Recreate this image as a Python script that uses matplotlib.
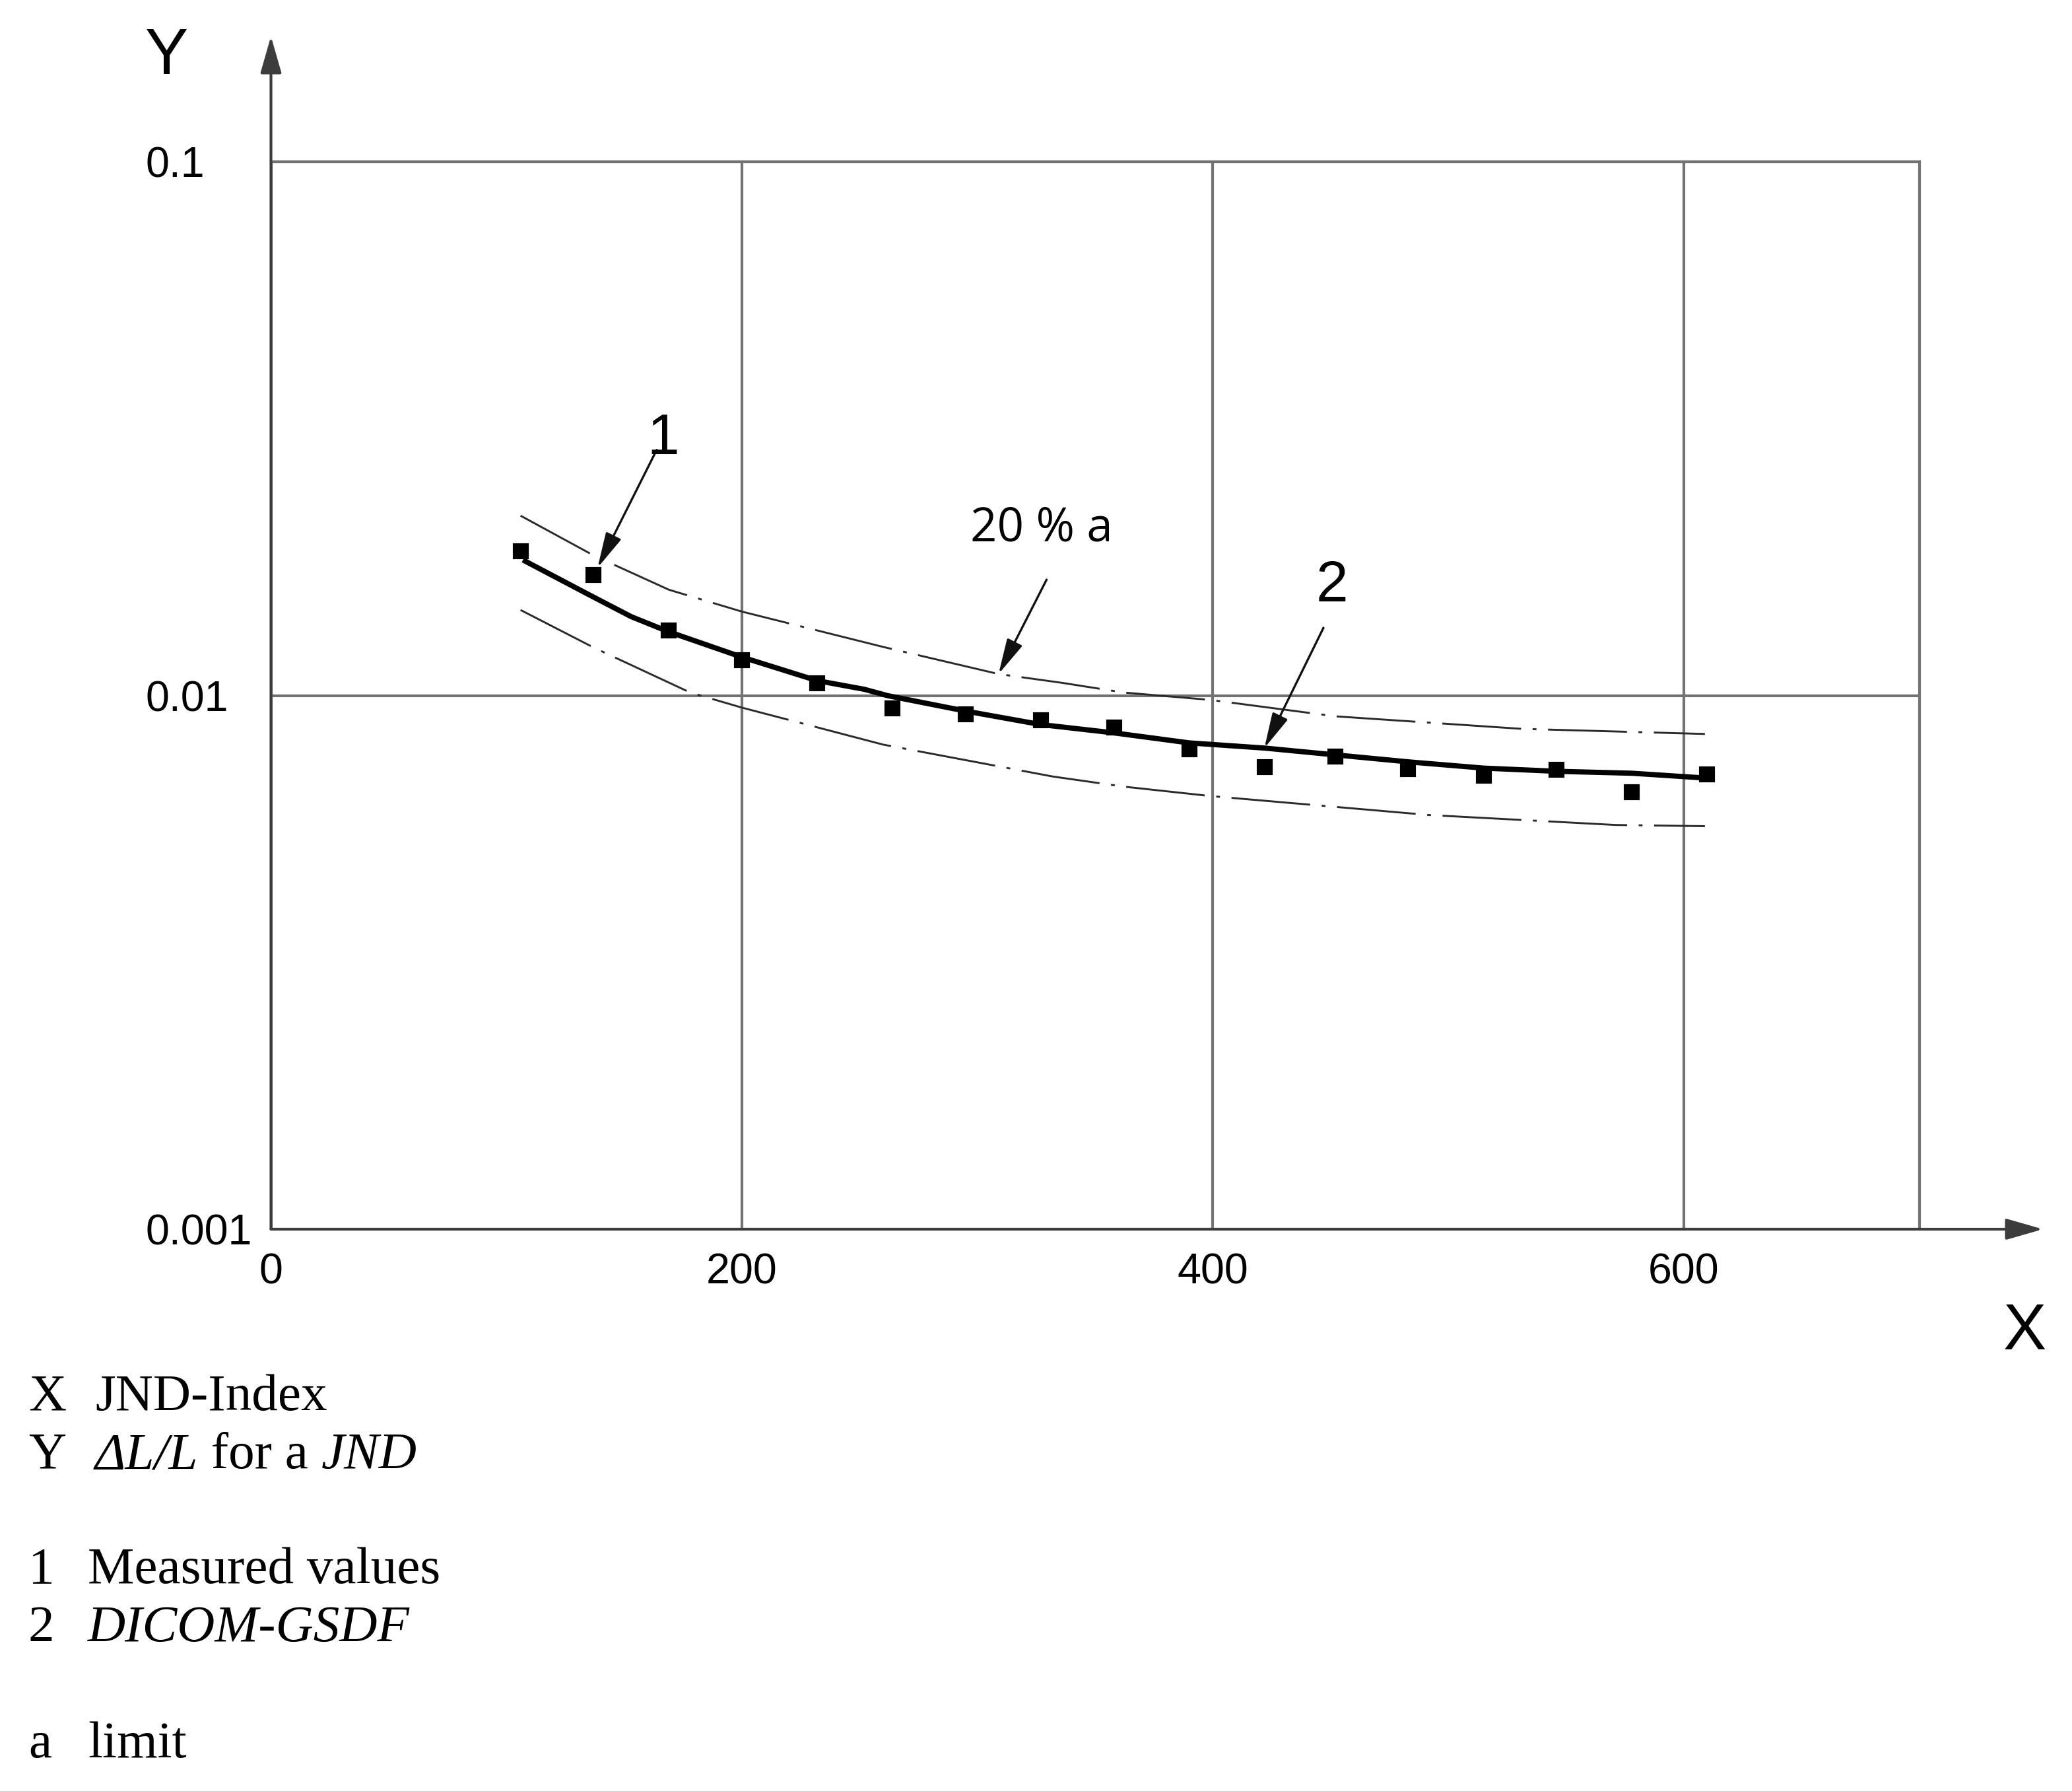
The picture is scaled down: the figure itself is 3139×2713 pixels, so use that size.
import matplotlib.pyplot as plt

# values
x_meas = [106, 137, 169, 200, 232, 264, 295, 327, 358, 390, 422, 452, 483, 515, 546, 578, 610]
y_meas = [0.01865, 0.01684, 0.01325, 0.01163, 0.01053, 0.00946, 0.00922, 0.00898, 0.00870,
          0.00793, 0.00735, 0.00768, 0.00727, 0.00707, 0.00725, 0.00659, 0.00711]

x_gsdf = [108, 135, 153, 169, 200, 232, 252, 262, 295, 327, 358, 390, 422, 452, 483, 515, 546, 578, 610]
y_gsdf = [0.01785, 0.01545, 0.01405, 0.01316, 0.01180, 0.01066, 0.01027, 0.00999, 0.00935, 0.00882,
          0.00851, 0.00815, 0.00797, 0.00774, 0.00751, 0.00731, 0.00721, 0.00715, 0.00700]

x_upper = [106, 137, 169, 200, 260, 309, 336, 362, 399, 452, 531, 609]
y_upper = [0.02172, 0.01830, 0.01578, 0.01436, 0.01233, 0.01097, 0.01056, 0.01013, 0.00981,
           0.00914, 0.00866, 0.00847]

x_lower = [106, 137, 178, 200, 260, 332, 362, 399, 492, 571, 609]
y_lower = [0.01446, 0.01230, 0.01013, 0.00949, 0.00809, 0.00705, 0.00675, 0.00648, 0.00597,
           0.00572, 0.00569]

x_ticks = [0, 200, 400, 600]
y_ticks = [0.001, 0.01, 0.1]
y_ticklabels = ['0.001', '0.01', '0.1']

# key lines: letter, then pieces of (text, style)
legend_lines = [
    ('X', [('JND-Index', 'normal')]),
    ('Y', [('ΔL/L', 'italic'), (' for a ', 'normal'), ('JND', 'italic')]),
    ('1', [('Measured values', 'normal')]),
    ('2', [('DICOM-GSDF', 'italic')]),
    ('a', [('limit', 'normal')]),
]

W, H = 3139, 2713
fig = plt.figure(figsize=(W / 300, H / 300), dpi=300)
ax = fig.add_axes([410.5 / W, (H - 1862) / H, 2497 / W, 1617 / H])

grid_col = '#737373'
axis_col = '#3c3c3c'
sans = ['Liberation Sans', 'DejaVu Sans']

ax.set_yscale('log')
ax.set_xlim(0, 700)
ax.set_ylim(0.001, 0.1)
ax.set_xticks(x_ticks)
ax.set_xticklabels([str(t) for t in x_ticks], family=sans, fontsize=15.5)
ax.set_yticks(y_ticks)
ax.set_yticklabels(y_ticklabels, family=sans, fontsize=15.5, ha='left')
ax.yaxis.set_minor_locator(plt.NullLocator())
ax.tick_params(axis='y', length=0, pad=45.7)
ax.tick_params(axis='x', length=0, pad=8.6)
ax.grid(True, color=grid_col, lw=1.0)
for s in ['top', 'right']:
    ax.spines[s].set_color(grid_col)
    ax.spines[s].set_linewidth(1.0)
for s in ['left', 'bottom']:
    ax.spines[s].set_visible(False)

# axes with arrow heads
arr = dict(arrowstyle='-|>,head_length=1.15,head_width=0.33', mutation_scale=10,
           color=axis_col, lw=1.0, shrinkA=0, shrinkB=0)
ax.annotate('', xy=(0, 1.1175), xytext=(0, 0), xycoords='axes fraction',
            textcoords='axes fraction', arrowprops=arr, annotation_clip=False)
ax.annotate('', xy=(1.0751, 0), xytext=(0, 0), xycoords='axes fraction',
            textcoords='axes fraction', arrowprops=arr, annotation_clip=False)

# curves
dd = (0, (41, 6, 2, 6))
ax.plot(x_upper, y_upper, color='#2a2a2a', lw=0.7, ls=dd)
ax.plot(x_lower, y_lower, color='#2a2a2a', lw=0.7, ls=dd)
ax.plot(x_gsdf, y_gsdf, color='black', lw=1.9)
ax.plot(x_meas, y_meas, ls='none', marker='s', ms=5, color='black')

# callouts
carr = dict(arrowstyle='-|>,head_length=1.1,head_width=0.26', mutation_scale=10,
            color='#111111', lw=0.8, shrinkA=0, shrinkB=0)
ax.annotate('', xy=(138.7, 0.01735), xytext=(163.8, 0.02884), arrowprops=carr)
ax.text(166.5, 0.0302, '1', family=sans, fontsize=21, ha='center', va='center')
ax.annotate('', xy=(421.9, 0.00797), xytext=(447, 0.01339), arrowprops=carr)
ax.text(450.5, 0.01598, '2', family=sans, fontsize=21, ha='center', va='center')
ax.annotate('', xy=(309, 0.01097), xytext=(329.4, 0.01648), arrowprops=carr)
ax.text(327.2, 0.02052, '20 % a', family=['Open Sans', 'DejaVu Sans'], fontsize=17,
        ha='center', va='center')

# axis letters
fig.text(252 / W, 1 - 87 / H, 'Y', family=sans, fontsize=23.5, ha='center', va='center')
fig.text(3067 / W, 1 - 2019 / H, 'X', family=sans, fontsize=23.5, ha='center', va='center')

# key below the chart
serif = ['Liberation Serif', 'DejaVu Serif']
baselines = [2136, 2224, 2398, 2486, 2662]
col2 = [144, 144, 133, 133, 133]
renderer = fig.canvas.get_renderer()
for (key, pieces), b, c in zip(legend_lines, baselines, col2):
    fig.text(43 / W, 1 - b / H, key, family=serif, fontsize=19, va='baseline')
    xpix = c
    for txt, style in pieces:
        t = fig.text(xpix / W, 1 - b / H, txt, family=serif, fontsize=19,
                     va='baseline', style=style)
        xpix += t.get_window_extent(renderer).width

fig.savefig('out.png', dpi=300)
